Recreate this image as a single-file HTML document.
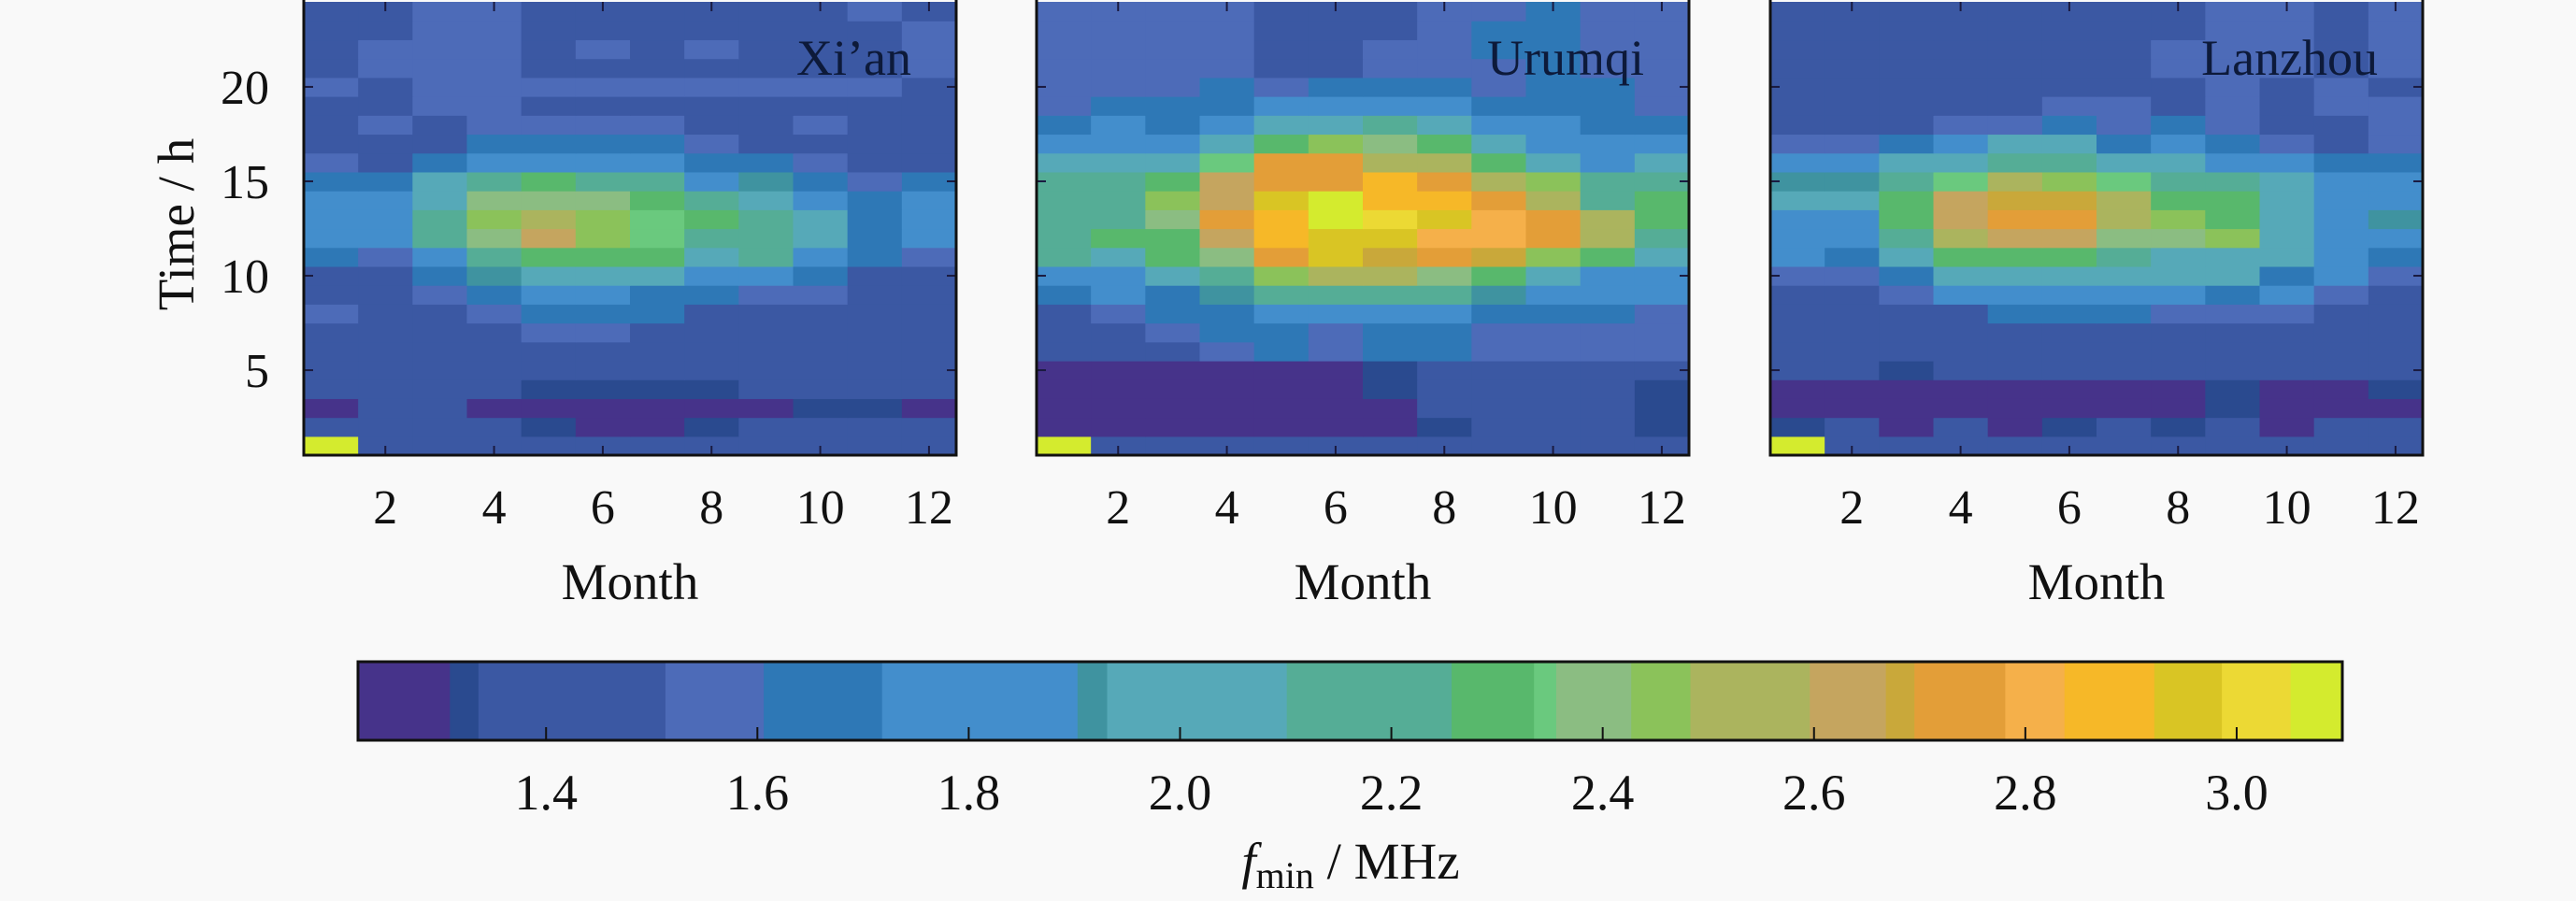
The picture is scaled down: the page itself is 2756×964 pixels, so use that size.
<!DOCTYPE html>
<html><head><meta charset="utf-8">
<style>
html,body{margin:0;padding:0;background:#f9f9f9;}
svg{display:block;font-family:"Liberation Serif",serif;}
</style></head>
<body>
<svg id="fig" width="2756" height="964" viewBox="0 0 2756 964" xmlns="http://www.w3.org/2000/svg">
<rect x="0" y="0" width="2756" height="964" fill="#f9f9f9"/>
</svg>
<script>
// ---- data ----
const months = [1,2,3,4,5,6,7,8,9,10,11,12];
const hours = [1,2,3,4,5,6,7,8,9,10,11,12,13,14,15,16,17,18,19,20,21,22,23,24];
const stations = ["Xi\u2019an","Urumqi","Lanzhou"];
const monthTicks = [2,4,6,8,10,12];
const hourTicks = [5,10,15,20];
const cbTicks = [1.4,1.6,1.8,2.0,2.2,2.4,2.6,2.8,3.0];
const cbTickLabels = ["1.4","1.6","1.8","2.0","2.2","2.4","2.6","2.8","3.0"];
const cbBounds = [1.222,1.309,1.336,1.513,1.606,1.718,1.903,1.931,2.101,2.257,2.335,2.356,2.427,2.483,2.596,2.668,2.695,2.781,2.837,2.922,2.986,3.051,3.100];
const cbColors = ["#46338a","#2a4a8f","#3b58a3","#4d6bb8","#2e78b6","#438ecc","#3f93a0","#56a9b8","#55ad96","#58b86c","#6ac97e","#8bbd82","#8bc25a","#abb45e","#c5a55f","#c9a83a","#e39e38","#f5b04a","#f6b828","#d9c524","#ecd934","#d4eb2e"];
// rows = hour 1..24, columns = month 1..12 (fmin, MHz)
const xianVals = [
[3.08,1.42,1.42,1.42,1.42,1.42,1.42,1.42,1.42,1.42,1.42,1.42],
[1.42,1.42,1.42,1.42,1.32,1.27,1.27,1.32,1.42,1.42,1.42,1.42],
[1.27,1.42,1.42,1.27,1.27,1.27,1.27,1.27,1.27,1.32,1.32,1.27],
[1.42,1.42,1.42,1.42,1.32,1.32,1.32,1.32,1.42,1.42,1.42,1.42],
[1.42,1.42,1.42,1.42,1.42,1.42,1.42,1.42,1.42,1.42,1.42,1.42],
[1.42,1.42,1.42,1.42,1.42,1.42,1.42,1.42,1.42,1.42,1.42,1.42],
[1.42,1.42,1.42,1.42,1.56,1.56,1.42,1.42,1.42,1.42,1.42,1.42],
[1.56,1.42,1.42,1.56,1.66,1.66,1.66,1.42,1.42,1.42,1.42,1.42],
[1.42,1.42,1.56,1.66,1.81,1.81,1.66,1.66,1.56,1.56,1.42,1.42],
[1.42,1.42,1.66,1.92,2.02,2.02,2.02,1.81,1.81,1.66,1.42,1.42],
[1.66,1.56,1.81,2.18,2.30,2.30,2.30,2.02,2.18,1.81,1.66,1.56],
[1.81,1.81,2.18,2.39,2.63,2.45,2.345,2.18,2.18,2.02,1.66,1.81],
[1.81,1.81,2.18,2.45,2.54,2.45,2.345,2.30,2.18,2.02,1.66,1.81],
[1.81,1.81,2.02,2.39,2.39,2.39,2.30,2.18,2.02,1.81,1.66,1.81],
[1.66,1.66,2.02,2.18,2.30,2.18,2.18,1.81,1.92,1.66,1.56,1.66],
[1.56,1.42,1.66,1.81,1.81,1.81,1.81,1.66,1.66,1.56,1.42,1.42],
[1.42,1.42,1.42,1.66,1.66,1.66,1.66,1.56,1.42,1.42,1.42,1.42],
[1.42,1.56,1.42,1.56,1.56,1.56,1.56,1.42,1.42,1.56,1.42,1.42],
[1.42,1.42,1.56,1.56,1.42,1.42,1.42,1.42,1.42,1.42,1.42,1.42],
[1.56,1.42,1.56,1.56,1.56,1.56,1.56,1.56,1.56,1.56,1.56,1.42],
[1.42,1.56,1.56,1.56,1.42,1.42,1.42,1.42,1.42,1.42,1.42,1.56],
[1.42,1.56,1.56,1.56,1.42,1.56,1.42,1.56,1.42,1.42,1.42,1.56],
[1.42,1.42,1.56,1.56,1.42,1.42,1.42,1.42,1.42,1.42,1.42,1.56],
[1.42,1.42,1.56,1.56,1.42,1.42,1.42,1.42,1.42,1.42,1.56,1.42]
];
const urumqiVals = [
[3.08,1.42,1.42,1.42,1.42,1.42,1.42,1.42,1.42,1.42,1.42,1.42],
[1.27,1.27,1.27,1.27,1.27,1.27,1.27,1.32,1.42,1.42,1.42,1.32],
[1.27,1.27,1.27,1.27,1.27,1.27,1.27,1.42,1.42,1.42,1.42,1.32],
[1.27,1.27,1.27,1.27,1.27,1.27,1.32,1.42,1.42,1.42,1.42,1.32],
[1.27,1.27,1.27,1.27,1.27,1.27,1.32,1.42,1.42,1.42,1.42,1.42],
[1.42,1.42,1.42,1.56,1.66,1.56,1.66,1.66,1.56,1.56,1.56,1.56],
[1.42,1.42,1.56,1.66,1.66,1.56,1.66,1.66,1.56,1.56,1.56,1.56],
[1.42,1.56,1.66,1.66,1.81,1.81,1.81,1.81,1.66,1.66,1.66,1.56],
[1.66,1.81,1.66,1.92,2.18,2.18,2.18,2.18,1.92,1.81,1.81,1.81],
[1.81,1.81,2.02,2.18,2.45,2.54,2.54,2.39,2.30,2.02,1.81,1.81],
[2.18,2.02,2.30,2.39,2.74,2.95,2.68,2.74,2.68,2.45,2.30,2.02],
[2.18,2.30,2.30,2.63,2.88,2.95,2.95,2.81,2.81,2.74,2.54,2.18],
[2.18,2.18,2.39,2.74,2.88,3.08,3.02,2.95,2.81,2.74,2.54,2.30],
[2.18,2.18,2.45,2.63,2.95,3.08,2.88,2.88,2.74,2.54,2.18,2.30],
[2.18,2.18,2.30,2.63,2.74,2.74,2.88,2.74,2.54,2.45,2.18,2.18],
[2.02,2.02,2.02,2.345,2.74,2.74,2.54,2.54,2.30,2.02,1.81,2.02],
[1.81,1.81,1.81,2.02,2.30,2.45,2.39,2.30,2.02,1.81,1.81,1.81],
[1.66,1.81,1.66,1.81,2.02,2.02,2.18,2.02,1.81,1.81,1.66,1.66],
[1.56,1.66,1.66,1.66,1.81,1.81,1.81,1.81,1.66,1.66,1.66,1.56],
[1.56,1.56,1.56,1.66,1.56,1.66,1.66,1.66,1.56,1.66,1.66,1.56],
[1.56,1.56,1.56,1.56,1.42,1.42,1.56,1.56,1.56,1.66,1.56,1.56],
[1.56,1.56,1.56,1.56,1.42,1.42,1.56,1.56,1.66,1.66,1.56,1.56],
[1.56,1.56,1.56,1.56,1.42,1.42,1.42,1.56,1.66,1.66,1.56,1.56],
[1.56,1.56,1.56,1.56,1.42,1.42,1.42,1.56,1.56,1.66,1.56,1.56]
];
const lanzhouVals = [
[3.08,1.42,1.42,1.42,1.42,1.42,1.42,1.42,1.42,1.42,1.42,1.42],
[1.32,1.42,1.27,1.42,1.27,1.32,1.42,1.32,1.42,1.27,1.42,1.42],
[1.27,1.27,1.27,1.27,1.27,1.27,1.27,1.27,1.32,1.27,1.27,1.27],
[1.27,1.27,1.27,1.27,1.27,1.27,1.27,1.27,1.32,1.27,1.27,1.32],
[1.42,1.42,1.32,1.42,1.42,1.42,1.42,1.42,1.42,1.42,1.42,1.42],
[1.42,1.42,1.42,1.42,1.42,1.42,1.42,1.42,1.42,1.42,1.42,1.42],
[1.42,1.42,1.42,1.42,1.42,1.42,1.42,1.42,1.42,1.42,1.42,1.42],
[1.42,1.42,1.42,1.42,1.66,1.66,1.66,1.56,1.56,1.56,1.42,1.42],
[1.42,1.42,1.56,1.81,1.81,1.81,1.81,1.81,1.66,1.81,1.56,1.42],
[1.56,1.56,1.66,2.02,2.02,2.02,2.02,2.02,2.02,1.66,1.81,1.56],
[1.81,1.66,2.02,2.30,2.30,2.30,2.18,2.02,2.02,2.02,1.81,1.66],
[1.81,1.81,2.18,2.54,2.63,2.63,2.39,2.39,2.45,2.02,1.81,1.81],
[1.81,1.81,2.30,2.63,2.74,2.74,2.54,2.45,2.30,2.02,1.81,1.92],
[2.02,2.02,2.30,2.63,2.68,2.68,2.54,2.30,2.30,2.02,1.81,1.81],
[1.92,1.92,2.18,2.345,2.54,2.45,2.345,2.18,2.18,2.02,1.81,1.81],
[1.81,1.81,2.02,2.02,2.18,2.18,2.02,2.02,1.81,1.81,1.66,1.66],
[1.56,1.56,1.66,1.81,2.02,2.02,1.66,1.81,1.66,1.56,1.42,1.56],
[1.42,1.42,1.42,1.56,1.56,1.66,1.56,1.66,1.56,1.42,1.42,1.56],
[1.42,1.42,1.42,1.42,1.42,1.56,1.56,1.42,1.56,1.42,1.56,1.56],
[1.42,1.42,1.42,1.42,1.42,1.42,1.42,1.42,1.56,1.42,1.56,1.42],
[1.42,1.42,1.42,1.42,1.42,1.42,1.42,1.56,1.56,1.56,1.42,1.56],
[1.42,1.42,1.42,1.42,1.42,1.42,1.42,1.56,1.56,1.56,1.42,1.56],
[1.42,1.42,1.42,1.42,1.42,1.42,1.42,1.42,1.56,1.56,1.42,1.56],
[1.42,1.42,1.42,1.42,1.42,1.42,1.42,1.42,1.56,1.56,1.42,1.56]
];
const panelData = [xianVals, urumqiVals, lanzhouVals];

// ---- layout ----
const NS = "http://www.w3.org/2000/svg";
const svg = document.getElementById("fig");
const panelLeft = [325, 1109, 1894];
const panelW = 698, panelTop = 2, panelBottom = 487;
const cbX0 = 383, cbX1 = 2506, cbY0 = 708, cbY1 = 792;
const cbMin = 1.222, cbMax = 3.100;

function mk(tag, attrs, parent) {
  const e = document.createElementNS(NS, tag);
  for (const k in attrs) e.setAttribute(k, attrs[k]);
  (parent || svg).appendChild(e);
  return e;
}
function colorOf(v) {
  for (let i = 0; i < cbColors.length; i++) {
    if (v < cbBounds[i + 1]) return cbColors[i];
  }
  return cbColors[cbColors.length - 1];
}
function xScale(p, m) { return panelLeft[p] + (m - 0.5) / 12 * panelW; }
function yScale(h) { return panelBottom - (h - 0.5) / 24 * (panelBottom - panelTop); }
function cbScale(v) { return cbX0 + (v - cbMin) / (cbMax - cbMin) * (cbX1 - cbX0); }

for (let p = 0; p < 3; p++) {
  const g = mk("g", {});
  
  
  const vals = panelData[p];
  for (let hi = 0; hi < hours.length; hi++) {
    for (let mi = 0; mi < months.length; mi++) {
      const x0 = xScale(p, months[mi] - 0.5), x1 = xScale(p, months[mi] + 0.5);
      const y0 = yScale(hours[hi] + 0.5), y1 = yScale(hours[hi] - 0.5);
      const r = mk("rect", {x: x0, y: y0, width: x1 - x0 + 0.6, height: y1 - y0 + 0.6, fill: colorOf(vals[hi][mi])}, g);
      
      
    }
  }
  // ticks
  for (const m of monthTicks) {
    const x = xScale(p, m);
    const t1 = mk("line", {x1: x, y1: panelBottom, x2: x, y2: panelBottom - 10, stroke: "#1a1a40", "stroke-width": 2});
    
    
    const t2 = mk("line", {x1: x, y1: panelTop, x2: x, y2: panelTop + 10, stroke: "#1a1a40", "stroke-width": 2});
    
    
    const lb = mk("text", {x: x, y: 560, "font-size": 52, "text-anchor": "middle", fill: "#111"});
    lb.textContent = String(m);
    
    
  }
  for (const h of hourTicks) {
    const y = yScale(h);
    const t1 = mk("line", {x1: panelLeft[p], y1: y, x2: panelLeft[p] + 10, y2: y, stroke: "#1a1a40", "stroke-width": 2});
    
    
    const t2 = mk("line", {x1: panelLeft[p] + panelW, y1: y, x2: panelLeft[p] + panelW - 10, y2: y, stroke: "#1a1a40", "stroke-width": 2});
    
    
    if (p === 0) {
      const lb = mk("text", {x: 288, y: y + 18, "font-size": 52, "text-anchor": "end", fill: "#111"});
      lb.textContent = String(h);
      
      
    }
  }
  const frame = mk("rect", {x: panelLeft[p], y: panelTop - 4, width: panelW, height: panelBottom - panelTop + 4, fill: "none", stroke: "#111", "stroke-width": 3});
  
  
  const title = mk("text", {x: panelLeft[p] + panelW - 48, y: 80, "font-size": 54, "text-anchor": "end", fill: "#0d1a3a"});
  title.textContent = stations[p];
  
  
  const xl = mk("text", {x: panelLeft[p] + panelW / 2, y: 641, "font-size": 55, "text-anchor": "middle", fill: "#111"});
  xl.textContent = "Month";
  
  
}
const yl = mk("text", {x: 0, y: 0, "font-size": 55, "text-anchor": "middle", fill: "#111", transform: "translate(207,240) rotate(-90)"});
yl.textContent = "Time / h";



// colorbar
const cb = mk("g", {});


for (let i = 0; i < cbColors.length; i++) {
  const x0 = cbScale(cbBounds[i]), x1 = cbScale(cbBounds[i + 1]);
  const s = mk("rect", {x: x0, y: cbY0, width: x1 - x0 + 0.6, height: cbY1 - cbY0, fill: cbColors[i]}, cb);
  
  
}
const cbf = mk("rect", {x: cbX0, y: cbY0, width: cbX1 - cbX0, height: cbY1 - cbY0, fill: "none", stroke: "#111", "stroke-width": 3}, cb);


for (let i = 0; i < cbTicks.length; i++) {
  const x = cbScale(cbTicks[i]);
  const t = mk("line", {x1: x, y1: cbY1, x2: x, y2: cbY1 - 14, stroke: "#111", "stroke-width": 2}, cb);
  
  
  const lb = mk("text", {x: x, y: 866, "font-size": 54, "text-anchor": "middle", fill: "#111"});
  lb.textContent = cbTickLabels[i];
  
  
}
const cbl = mk("text", {x: 1445, y: 940, "font-size": 55, "text-anchor": "middle", fill: "#111"});


const t1 = mk("tspan", {"font-style": "italic"}, cbl); t1.textContent = "f";
const t2 = mk("tspan", {"font-size": 40, dy: 10}, cbl); t2.textContent = "min";
const t3 = mk("tspan", {dy: -10}, cbl); t3.textContent = " / MHz";
</script>
</body></html>
